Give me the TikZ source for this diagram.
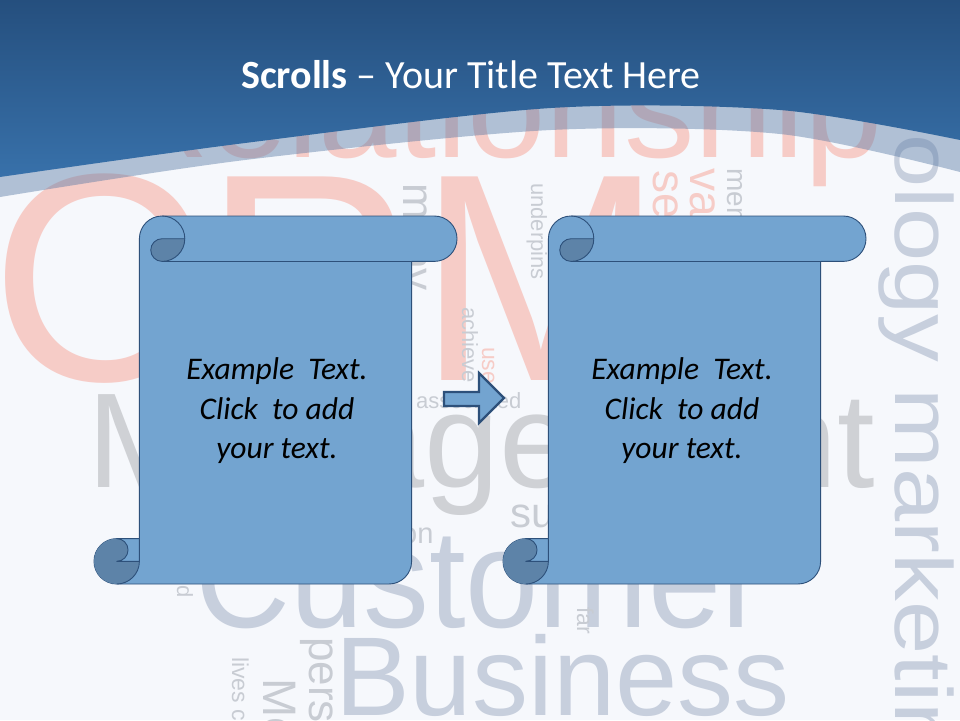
\documentclass[tikz,border=0pt]{standalone}
\usepackage{fontspec}
\setmainfont{Carlito}
\newfontfamily\cloudfont{Liberation Sans}
\definecolor{bg}{RGB}{246,248,252}
\definecolor{pinkw}{RGB}{246,204,199}
\definecolor{grayw}{RGB}{207,209,213}
\definecolor{bluew}{RGB}{199,207,221}
\definecolor{smallw}{RGB}{200,204,211}
\definecolor{hdrtop}{RGB}{37,79,126}
\definecolor{hdrbot}{RGB}{56,113,170}
\definecolor{bandc}{RGB}{92,124,166}
\definecolor{scrollfill}{RGB}{115,164,208}
\definecolor{scrolldark}{RGB}{93,131,168}
\definecolor{scrollline}{RGB}{45,80,122}
\newcommand\wsize[1]{\cloudfont\fontsize{#1}{#1}\selectfont}
\def\sa{45.4}\def\sh{22.7}\def\sq{11.35}\def\sW{363}\def\sH{368}
\tikzset{
  word/.style={inner sep=0pt, anchor=base west},
  vword/.style={word, rotate=-90},
  scrollbody/.style={fill=scrollfill, draw=scrollline, line width=0.9pt, line join=round},
  scrollcurl/.style={fill=scrolldark},
  scrollstroke/.style={draw=scrollline, line width=0.9pt, line join=round},
  scrolltext/.style={align=center, inner sep=0pt, text=black, font=\fontsize{31.5}{39.5}\selectfont\itshape},
  blockarrow/.style={fill=scrollfill, draw=scrollline, line width=2.2pt, line join=miter},
}
\newcommand\scrollshape[2]{%
\begin{scope}[shift={(#1,#2)}]
  \path[scrollbody] (\sa,\sH-\sa) -- (\sa,\sh) arc[start angle=180,end angle=270,radius=\sh]
    -- (\sW-\sh,0) arc[start angle=270,end angle=450,radius=\sh]
    -- (\sW-\sa,\sa) -- (\sW-\sa,\sH-\sh) arc[start angle=0,end angle=90,radius=\sh]
    -- (\sh,\sH) arc[start angle=90,end angle=270,radius=\sh] -- cycle;
  \fill[scrollcurl] (2*\sa,\sh) arc[start angle=0,end angle=90,radius=\sh]
    arc[start angle=90,end angle=270,radius=\sq] -- cycle;
  \fill[scrollcurl] (\sa,\sH-\sh) arc[start angle=0,end angle=270,radius=\sh]
    arc[start angle=270,end angle=450,radius=\sq] -- cycle;
  \path[scrollstroke] (\sa+\sh,0) arc[start angle=270,end angle=450,radius=\sh]
    arc[start angle=90,end angle=270,radius=\sq] -- (2*\sa,\sh);
  \path[scrollstroke] (\sW-\sa,\sa) -- (\sa+\sh,\sa);
  \path[scrollstroke] (\sh,\sH-\sa) arc[start angle=270,end angle=450,radius=\sq] -- (\sa,\sH-\sh);
  \path[scrollstroke] (\sh,\sH) arc[start angle=90,end angle=0,radius=\sh] -- (\sa,\sH-\sa);
\end{scope}}
\begin{document}
\begin{tikzpicture}[x=1pt,y=-1pt]
\useasboundingbox (0,0) rectangle (960,720);
\clip (0,0) rectangle (960,720);
\fill[bg] (0,0) rectangle (960,720);
% word cloud
\node[word, text=pinkw, font=\wsize{296}] (wcrm) at (-10,380) {CRM};
\node[word, text=pinkw, font=\wsize{141}] (wrel) at (107,157) {Relationship};
\node[word, text=grayw, font=\wsize{135}] (wman) at (87,487) {Management};
\node[word, text=bluew, font=\wsize{140}, xscale=0.94] (wcus) at (195,627) {Customer};
\node[word, text=bluew, font=\wsize{112}] (wbus) at (335,715) {Business};
\node[vword, text=bluew, font=\wsize{81}, xscale=1.18] (wtec) at (895,-100) {technology marketing};
\node[word, text=smallw, font=\wsize{22}] (wass) at (416,408) {associated};
\node[word, text=smallw, font=\wsize{42}] (wsu) at (510,527) {su};
\node[word, text=smallw, font=\wsize{29}] (won) at (401,543) {on};
\node[vword, text=smallw, font=\wsize{22}] (wund) at (531,183) {underpins};
\node[vword, text=smallw, font=\wsize{22}] (wach) at (462,307) {achieve};
\node[vword, text=pinkw, font=\wsize{23}] (wuse) at (482,347) {used};
\node[vword, text=smallw, font=\wsize{44}] (wmany) at (403,183) {many};
\node[vword, text=smallw, font=\wsize{28}] (wmem) at (727,168) {mem};
\node[vword, text=pinkw, font=\wsize{46}] (wva) at (690,168) {va};
\node[vword, text=pinkw, font=\wsize{46}] (wse) at (653,170) {se};
\node[vword, text=smallw, font=\wsize{23}] (wfar) at (577,607) {far};
\node[vword, text=smallw, font=\wsize{44}] (wpers) at (309,637) {pers};
\node[vword, text=smallw, font=\wsize{23}] (wliv) at (232,657) {lives c};
\node[vword, text=smallw, font=\wsize{47}] (wme) at (263,678) {Me};
\node[vword, text=smallw, font=\wsize{22}] (wd) at (177,585) {d};
% header
\fill[bandc, opacity=0.45] (0,0) -- plot[smooth] coordinates {(0,197) (245,160) (551,130) (780,134) (960,172)} -- (960,0) -- cycle;
\shade[top color=hdrtop, bottom color=hdrbot] (0,0) -- plot[smooth] coordinates {(0,177) (245,143) (551,108) (780,110) (960,140)} -- (960,0) -- cycle;
\node[anchor=base, text=white, inner sep=0pt, font=\fontsize{40}{48}\selectfont] (title) at (471,88) {\textbf{Scrolls} – Your Title Text Here};
% scrolls
\scrollshape{94}{216}
\scrollshape{503}{216}
\node[scrolltext] (txt1) at (277,411) {Example\ \ Text.\\Click\ \ to add\\your text.};
\node[scrolltext] (txt2) at (682,411) {Example\ \ Text.\\Click\ \ to add\\your text.};
% arrow
\coordinate (a1) at (444,392);
\path[blockarrow] (a1) -- (479,392) -- (479,373) -- (504,398) -- (479,423) -- (479,406) -- (444,406) -- cycle;
\end{tikzpicture}
\end{document}
